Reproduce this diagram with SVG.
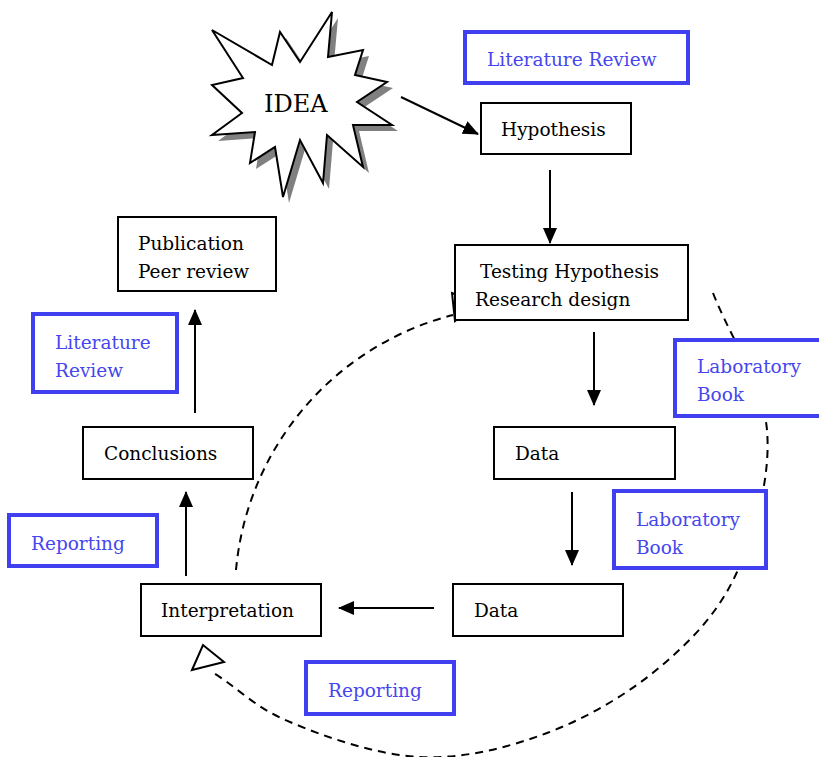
<svg xmlns="http://www.w3.org/2000/svg" width="819" height="757" viewBox="0 0 819 757">
<style>
.box{fill:#fff;stroke:#000;stroke-width:2}
.note{fill:#fff;stroke:#4040f0;stroke-width:4}
.t{font-family:"DejaVu Serif","Liberation Serif",serif;font-size:18.5px;fill:#000}
.bt{font-family:"DejaVu Serif","Liberation Serif",serif;font-size:18.5px;fill:#4646ee}
.arr{stroke:#000;stroke-width:2;fill:none;marker-end:url(#ah)}
.dash{stroke:#000;stroke-width:2;fill:none;stroke-dasharray:8,6}
</style>
<defs>
<marker id="ah" viewBox="0 0 16 14" refX="15" refY="7" markerWidth="16" markerHeight="14" markerUnits="userSpaceOnUse" orient="auto">
<path d="M0,0 L16,7 L0,14 Z" fill="#000"/>
</marker>
</defs>
<rect width="819" height="757" fill="#fff"/>
<g id="connectors">
<path class="dash" d="M236,570 A290,290 0 0 1 453,315"/>
<polygon points="452,293 455,321 478,303" fill="#fff" stroke="#000" stroke-width="2"/>
<path class="dash" d="M713,293 C731,339 763,384 767,430 C771,477 755,533 737,572 C719,612 692,640 660,667 C628,694 587,718 547,733 C507,748 463,759 420,757 C377,755 325,737 290,722 C255,708 237,687 212,672"/>
<polygon points="192,670 203,645 224,662" fill="#fff" stroke="#000" stroke-width="2"/>
<line class="arr" x1="401" y1="97" x2="478" y2="134"/>
<line class="arr" x1="550" y1="170" x2="550" y2="243"/>
<line class="arr" x1="594" y1="332" x2="594" y2="405"/>
<line class="arr" x1="572" y1="492" x2="572" y2="565"/>
<line class="arr" x1="434" y1="608" x2="339" y2="608"/>
<line class="arr" x1="186" y1="576" x2="186" y2="492"/>
<line class="arr" x1="195" y1="413" x2="195" y2="310"/>
</g>
<g id="idea">
<polygon transform="translate(6,6)" fill="#808080" points="212,30 272,65 280,32 300,62 332,12 328,57 363,50 355,75 387,82 357,102 392,125 353,125 363,167 327,135 323,183 300,140 283,197 275,147 250,163 255,132 212,135 242,113 212,85 243,78"/>
<polygon fill="#fff" stroke="#000" stroke-width="2" points="212,30 272,65 280,32 300,62 332,12 328,57 363,50 355,75 387,82 357,102 392,125 353,125 363,167 327,135 323,183 300,140 283,197 275,147 250,163 255,132 212,135 242,113 212,85 243,78"/>
<text class="t" x="264" y="112" style="font-size:24px">IDEA</text>
</g>
<g id="litreview1"><rect class="note" x="465" y="32" width="223" height="51"/><text class="bt" x="487" y="66">Literature Review</text></g>
<g id="hypothesis"><rect class="box" x="481" y="103" width="150" height="51"/><text class="t" x="501" y="136">Hypothesis</text></g>
<g id="testing"><rect class="box" x="455" y="245" width="233" height="75"/><text class="t" x="480" y="278">Testing Hypothesis</text><text class="t" x="475" y="306">Research design</text></g>
<g id="labbook1"><rect class="note" x="675" y="340" width="150" height="76"/><text class="bt" x="697" y="373">Laboratory</text><text class="bt" x="697" y="401">Book</text></g>
<g id="data1"><rect class="box" x="494" y="427" width="181" height="52"/><text class="t" x="515" y="460">Data</text></g>
<g id="labbook2"><rect class="note" x="614" y="491" width="152" height="77"/><text class="bt" x="636" y="526">Laboratory</text><text class="bt" x="636" y="554">Book</text></g>
<g id="data2"><rect class="box" x="453" y="584" width="170" height="52"/><text class="t" x="474" y="617">Data</text></g>
<g id="interpretation"><rect class="box" x="141" y="584" width="180" height="52"/><text class="t" x="161" y="617">Interpretation</text></g>
<g id="reporting2"><rect class="note" x="306" y="662" width="148" height="52"/><text class="bt" x="328" y="697">Reporting</text></g>
<g id="conclusions"><rect class="box" x="83" y="427" width="170" height="52"/><text class="t" x="104" y="460">Conclusions</text></g>
<g id="reporting1"><rect class="note" x="9" y="515" width="148" height="51"/><text class="bt" x="31" y="550">Reporting</text></g>
<g id="litreview2"><rect class="note" x="33" y="314" width="144" height="78"/><text class="bt" x="55" y="349">Literature</text><text class="bt" x="55" y="377">Review</text></g>
<g id="publication"><rect class="box" x="118" y="217" width="158" height="74"/><text class="t" x="138" y="250">Publication</text><text class="t" x="138" y="278">Peer review</text></g>
</svg>
